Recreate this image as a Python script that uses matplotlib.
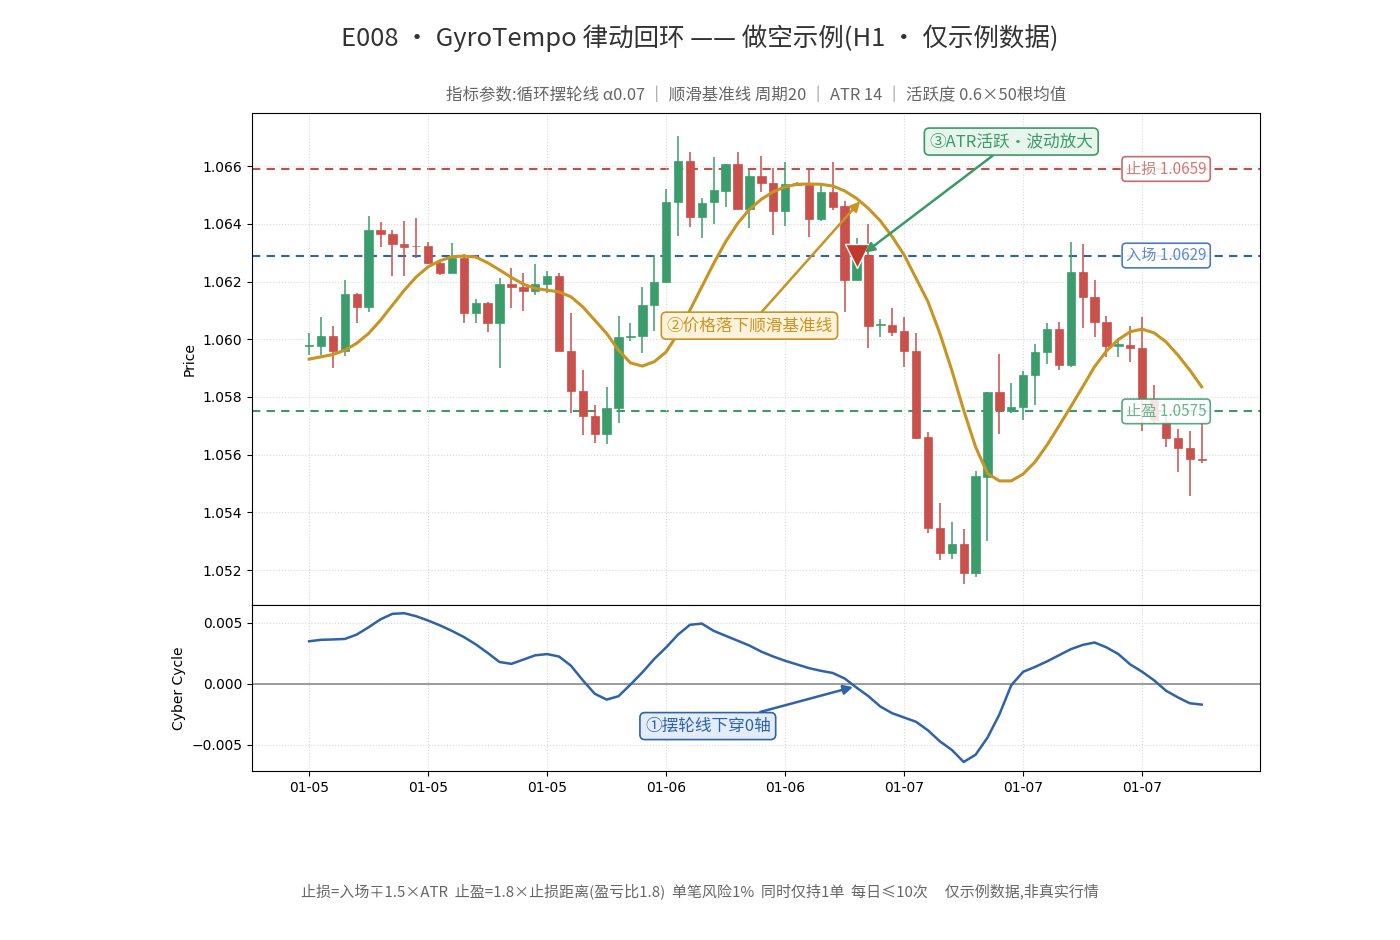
import numpy as np
import pandas as pd
import matplotlib
matplotlib.use("Agg")
import matplotlib.pyplot as plt
from matplotlib.ticker import FuncFormatter

plt.rcParams['font.family'] = ['Noto Sans CJK SC', 'DejaVu Sans']
plt.rcParams['axes.unicode_minus'] = True

# ---------------- data ----------------
opens = [1.05975, 1.05977, 1.06011, 1.05960, 1.06156, 1.06110, 1.06378, 1.06363, 1.06329, 1.06324,
         1.06323, 1.06263, 1.06228, 1.06282, 1.06092, 1.06124, 1.06055, 1.06191, 1.06182, 1.06168,
         1.06191, 1.06219, 1.05960, 1.05821, 1.05734, 1.05671, 1.05760, 1.06006, 1.06010, 1.06117,
         1.06197, 1.06474, 1.06616, 1.06422, 1.06474, 1.06514, 1.06607, 1.06450, 1.06565, 1.06542,
         1.06444, 1.06536, 1.06534, 1.06415, 1.06509, 1.06461, 1.06205, 1.06292, 1.06048, 1.06050,
         1.06028, 1.05960, 1.05660, 1.05345, 1.05260, 1.05290, 1.05191, 1.05523, 1.05818, 1.05752,
         1.05764, 1.05876, 1.05954, 1.06034, 1.05910, 1.06232, 1.06147, 1.06060, 1.05978, 1.05980,
         1.05968, 1.05792, 1.05714, 1.05656, 1.05622, 1.05586]
highs = [1.06021, 1.06076, 1.06047, 1.06205, 1.06160, 1.06427, 1.06405, 1.06378, 1.06409, 1.06419,
         1.06338, 1.06267, 1.06332, 1.06294, 1.06139, 1.06130, 1.06211, 1.06248, 1.06230, 1.06259,
         1.06237, 1.06230, 1.06092, 1.05893, 1.05772, 1.05835, 1.06080, 1.06057, 1.06182, 1.06292,
         1.06519, 1.06704, 1.06650, 1.06490, 1.06630, 1.06607, 1.06650, 1.06589, 1.06635, 1.06592,
         1.06613, 1.06545, 1.06589, 1.06534, 1.06615, 1.06479, 1.06350, 1.06399, 1.06069, 1.06107,
         1.06076, 1.06022, 1.05679, 1.05433, 1.05367, 1.05341, 1.05544, 1.05818, 1.05949, 1.05847,
         1.05891, 1.05983, 1.06055, 1.06060, 1.06338, 1.06330, 1.06205, 1.06080, 1.05995, 1.06046,
         1.06076, 1.05841, 1.05737, 1.05688, 1.05683, 1.05708]
lows = [1.05946, 1.05945, 1.05899, 1.05942, 1.06055, 1.06095, 1.06320, 1.06219, 1.06219, 1.06282,
        1.06260, 1.06222, 1.06228, 1.06055, 1.06055, 1.06024, 1.05899, 1.06107, 1.06099, 1.06153,
        1.06159, 1.05960, 1.05743, 1.05668, 1.05639, 1.05637, 1.05708, 1.05995, 1.05953, 1.06029,
        1.06196, 1.06357, 1.06390, 1.06350, 1.06401, 1.06457, 1.06450, 1.06384, 1.06511, 1.06361,
        1.06392, 1.06530, 1.06353, 1.06410, 1.06448, 1.06095, 1.06205, 1.05970, 1.06006, 1.06011,
        1.05904, 1.05653, 1.05327, 1.05235, 1.05237, 1.05151, 1.05175, 1.05300, 1.05671, 1.05743,
        1.05720, 1.05772, 1.05914, 1.05893, 1.05902, 1.06038, 1.06008, 1.05939, 1.05939, 1.05922,
        1.05683, 1.05705, 1.05625, 1.05541, 1.05456, 1.05570]
closes = [1.05980, 1.06011, 1.05960, 1.06156, 1.06110, 1.06378, 1.06363, 1.06329, 1.06320, 1.06322,
          1.06263, 1.06228, 1.06282, 1.06092, 1.06124, 1.06055, 1.06191, 1.06182, 1.06168, 1.06193,
          1.06219, 1.05960, 1.05821, 1.05734, 1.05671, 1.05760, 1.06006, 1.06010, 1.06117, 1.06197,
          1.06474, 1.06616, 1.06422, 1.06473, 1.06517, 1.06607, 1.06450, 1.06565, 1.06542, 1.06444,
          1.06538, 1.06540, 1.06415, 1.06509, 1.06459, 1.06205, 1.06297, 1.06047, 1.06052, 1.06026,
          1.05960, 1.05656, 1.05345, 1.05260, 1.05290, 1.05191, 1.05526, 1.05818, 1.05754, 1.05764,
          1.05876, 1.05954, 1.06034, 1.05910, 1.06232, 1.06147, 1.06060, 1.05976, 1.05982, 1.05968,
          1.05792, 1.05720, 1.05656, 1.05622, 1.05584, 1.05582]

baseline = [1.05931, 1.05939, 1.05947, 1.05962, 1.05986, 1.06020, 1.06066, 1.06118, 1.06170, 1.06216,
            1.06251, 1.06272, 1.06286, 1.06288, 1.06285, 1.06265, 1.06240, 1.06214, 1.06191, 1.06176,
            1.06170, 1.06164, 1.06147, 1.06112, 1.06066, 1.06020, 1.05962, 1.05918, 1.05907, 1.05922,
            1.05956, 1.06020, 1.06101, 1.06182, 1.06263, 1.06338, 1.06401, 1.06450, 1.06485, 1.06511,
            1.06528, 1.06537, 1.06538, 1.06537, 1.06531, 1.06514, 1.06488, 1.06453, 1.06410, 1.06355,
            1.06292, 1.06211, 1.06130, 1.06020, 1.05893, 1.05754, 1.05627, 1.05535, 1.05509, 1.05509,
            1.05533, 1.05575, 1.05633, 1.05699, 1.05766, 1.05835, 1.05905, 1.05959, 1.05999, 1.06026,
            1.06035, 1.06022, 1.05991, 1.05945, 1.05893, 1.05835]

cyber = [0.00350, 0.00362, 0.00365, 0.00369, 0.00405, 0.00465, 0.00530, 0.00575, 0.00580, 0.00555,
         0.00520, 0.00480, 0.00435, 0.00385, 0.00325, 0.00255, 0.00180, 0.00165, 0.00200, 0.00235,
         0.00245, 0.00225, 0.00150, 0.00030, -0.00080, -0.00128, -0.00100, -0.00005, 0.00095, 0.00205,
         0.00300, 0.00405, 0.00485, 0.00495, 0.00435, 0.00395, 0.00355, 0.00315, 0.00265, 0.00225,
         0.00190, 0.00160, 0.00130, 0.00108, 0.00090, 0.00045, -0.00030, -0.00100, -0.00185, -0.00240,
         -0.00275, -0.00310, -0.00380, -0.00470, -0.00540, -0.00639, -0.00580, -0.00440, -0.00250, -0.00010,
         0.00100, 0.00140, 0.00185, 0.00235, 0.00285, 0.00320, 0.00340, 0.00300, 0.00245, 0.00160,
         0.00100, 0.00030, -0.00055, -0.00110, -0.00158, -0.00169]

entry_price = 1.0629
stop_price = 1.0659
tp_price = 1.0575
entry_bar = 46
dates = pd.date_range("2024-01-05 00:00", periods=len(closes), freq="h")
tick_bars = [0, 10, 20, 30, 40, 50, 60, 70]

title = "E008 · GyroTempo 律动回环 —— 做空示例(H1 · 仅示例数据)"
subtitle = "指标参数:循环摆轮线 α0.07 │ 顺滑基准线 周期20 │ ATR 14 │ 活跃度 0.6×50根均值"
footer = "止损=入场∓1.5×ATR  止盈=1.8×止损距离(盈亏比1.8)  单笔风险1%  同时仅持1单  每日≤10次     仅示例数据,非真实行情"

# ---------------- styles ----------------
GREEN = "#3c9d6c"
RED = "#c9504b"
GOLD = "#c89422"
BLUE_LINE = "#2f62a8"
STOP_C = "#c0504d"
ENTRY_C = "#2a64b4"
TP_C = "#3a9a68"

fig = plt.figure(figsize=(14, 9.4), dpi=100)
ax = fig.add_axes([0.18, 0.3564, 0.72, 0.5234])
ax2 = fig.add_axes([0.18, 0.1798, 0.72, 0.1766], sharex=ax)

x = np.arange(len(closes))
o = np.array(opens); h = np.array(highs); l = np.array(lows); c = np.array(closes)
up = c >= o
colors = np.where(up, GREEN, RED)
ax.vlines(x, l, h, colors=colors, lw=1.1, zorder=2)
body_b = np.minimum(o, c)
body_h = np.maximum(np.abs(c - o), 0.000025)
ax.bar(x, body_h, bottom=body_b, width=0.7, color=colors, edgecolor=colors, lw=0.5, zorder=3)

ax.plot(x, baseline, color=GOLD, lw=2.2, zorder=4)

ax.axhline(stop_price, color=STOP_C, ls=(0, (4, 3)), lw=1.5, zorder=1)
ax.axhline(entry_price, color=ENTRY_C, ls=(0, (4, 3)), lw=1.5, zorder=1)
ax.axhline(tp_price, color=TP_C, ls=(0, (4, 3)), lw=1.5, zorder=1)

def side_label(y, txt, col):
    ax.text(75.4, y, txt, ha="right", va="center", fontsize=11, color=col, alpha=0.75,
            bbox=dict(boxstyle="round,pad=0.25", fc="white", ec=col, lw=1.2, alpha=0.85), zorder=6)

side_label(stop_price, "止损 1.0659", STOP_C)
side_label(entry_price, "入场 1.0629", ENTRY_C)
side_label(tp_price, "止盈 1.0575", TP_C)

ax.scatter([entry_bar], [entry_price], marker="v", s=300, color="#c0392b", edgecolor="white",
           lw=1.0, zorder=7)

ax.annotate("②价格落下顺滑基准线", xy=(46.3, 1.06478), xytext=(37.0, 1.06047),
            ha="center", va="center", fontsize=12, color=GOLD,
            bbox=dict(boxstyle="round,pad=0.3", fc="#fdf3dc", ec=GOLD, lw=1.2),
            arrowprops=dict(arrowstyle="-|>", color=GOLD, lw=1.8, shrinkA=0, shrinkB=0,
                            mutation_scale=14), zorder=8)
ax.annotate("③ATR活跃・波动放大", xy=(46.7, 1.06300), xytext=(59.0, 1.06685),
            ha="center", va="center", fontsize=12, color=TP_C,
            bbox=dict(boxstyle="round,pad=0.3", fc="#e8f5ec", ec=TP_C, lw=1.2),
            arrowprops=dict(arrowstyle="-|>", color=TP_C, lw=1.8, shrinkA=0, shrinkB=0,
                            mutation_scale=14), zorder=8)

fmt3 = FuncFormatter(lambda v, p: f"{v:.3f}".replace("-", "\u2212"))

ax.set_xlim(-4.8, 79.9)
ax.set_ylim(1.05079, 1.06784)
ax.set_yticks(np.arange(1.052, 1.0661, 0.002))
ax.yaxis.set_major_formatter(fmt3)
ax.set_ylabel("Price", fontsize=10, family="DejaVu Sans")
ax.grid(True, color="#d9d9d9", ls=":", lw=0.8)
ax.tick_params(labelbottom=False, labelsize=10)
ax.set_title(subtitle, fontsize=11.85, color="#666666", pad=9, fontweight="light")

# lower panel
ax2.plot(x, cyber, color=BLUE_LINE, lw=1.8, zorder=3)
ax2.axhline(0, color="#8c8c8c", lw=1.2, zorder=2)
ax2.set_ylim(-0.007131, 0.006475)
ax2.set_yticks([-0.005, 0.0, 0.005])
ax2.yaxis.set_major_formatter(fmt3)
ax2.set_ylabel("Cyber Cycle", fontsize=10, family="DejaVu Sans")
ax2.grid(True, color="#d9d9d9", ls=":", lw=0.8)
ax2.set_xticks(tick_bars)
ax2.set_xticklabels([dates[i].strftime("%m-%d") for i in tick_bars], family="DejaVu Sans")
ax2.tick_params(labelsize=10)
for a in (ax, ax2):
    for lab in a.get_yticklabels():
        lab.set_family("DejaVu Sans")

ax2.annotate("①摆轮线下穿0轴", xy=(45.7, -0.00025), xytext=(33.5, -0.00345),
             ha="center", va="center", fontsize=12, color=BLUE_LINE,
             bbox=dict(boxstyle="round,pad=0.3", fc="#e3edf9", ec=BLUE_LINE, lw=1.2),
             arrowprops=dict(arrowstyle="-|>", color=BLUE_LINE, lw=1.8, shrinkA=0, shrinkB=0,
                             mutation_scale=14), zorder=8)

fig.text(0.5, 0.9596, title, ha="center", va="center", fontsize=18.4, color="#333333",
         fontweight="light")
fig.text(0.5, 0.052, footer, ha="center", va="center", fontsize=10.8, color="#666666",
         fontweight="light")

fig.savefig("out.png", dpi=100)
